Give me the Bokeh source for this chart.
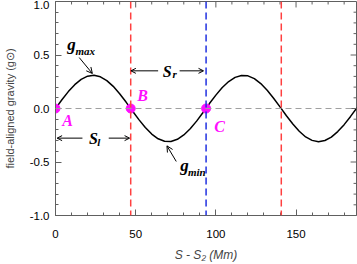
from bokeh.plotting import figure
from bokeh.models import (Range1d, FixedTicker, PrintfTickFormatter,
                          Span, Label, Arrow, OpenHead, ColumnDataSource)
from bokeh.embed import file_html
from bokeh.resources import INLINE

# ---- data ----
s_mm = [0, 4, 8, 12, 16, 20, 24, 28, 32, 36, 40, 44, 48, 52, 56, 60, 64, 68, 72, 76,
        80, 84, 88, 92, 96, 100, 104, 108, 112, 116, 120, 124, 128, 132, 136, 140,
        144, 148, 152, 156, 160, 164, 168, 172, 176, 180, 184, 188]
g_field = [0.000, 0.082, 0.158, 0.223, 0.272, 0.302, 0.310, 0.296, 0.261, 0.207,
           0.138, 0.060, -0.023, -0.104, -0.177, -0.239, -0.283, -0.306, -0.308,
           -0.288, -0.247, -0.190, -0.118, -0.037, 0.046, 0.125, 0.196, 0.252,
           0.291, 0.309, 0.305, 0.279, 0.233, 0.170, 0.096, 0.015, -0.068, -0.145,
           -0.213, -0.266, -0.298, -0.310, -0.299, -0.268, -0.216, -0.151, -0.074,
           0.008]
red_lines = [46.9, 140.8]
blue_lines = [93.9]
pt_x = [0.0, 46.9, 93.9]
pt_y = [0.0, 0.0, 0.0]
pt_names = ["A", "B", "C"]
x_ticks = [0, 50, 100, 150]
x_minor = [10, 20, 30, 40, 60, 70, 80, 90, 110, 120, 130, 140, 160, 170, 180]
y_ticks = [-1.0, -0.5, 0.0, 0.5, 1.0]
y_minor = [-0.9, -0.8, -0.7, -0.6, -0.4, -0.3, -0.2, -0.1,
           0.1, 0.2, 0.3, 0.4, 0.6, 0.7, 0.8, 0.9]

AX = "#606060"
SANS = "Liberation Sans"
SERIF = "Liberation Serif"
MAG = "#ff10ff"

p = figure(width=357, height=264, x_range=Range1d(0, 187.7), y_range=Range1d(-1, 1),
           output_backend="svg", toolbar_location=None,
           min_border_left=51, min_border_right=1, min_border_top=1, min_border_bottom=48)
p.grid.visible = False
p.outline_line_color = AX
p.background_fill_color = "white"
p.border_fill_color = "white"


def style_axis(ax):
    ax.axis_line_color = AX
    ax.major_tick_line_color = AX
    ax.minor_tick_line_color = AX
    ax.major_tick_in = 6
    ax.major_tick_out = 0
    ax.minor_tick_in = 3
    ax.minor_tick_out = 0
    ax.major_label_text_font = SANS
    ax.major_label_text_font_size = "11.5px"
    ax.major_label_text_color = "black"


xa = p.xaxis[0]
xa.ticker = FixedTicker(ticks=x_ticks, minor_ticks=x_minor)
style_axis(xa)
xa.major_label_standoff = 14
xa.axis_label = "S - S\u2082 (Mm)"
xa.axis_label_text_font = SANS
xa.axis_label_text_font_size = "12px"
xa.axis_label_text_font_style = "italic"
xa.axis_label_standoff = 7

ya = p.yaxis[0]
ya.ticker = FixedTicker(ticks=y_ticks, minor_ticks=y_minor)
ya.formatter = PrintfTickFormatter(format="%.1f")
style_axis(ya)
ya.major_label_standoff = 6
ya.axis_label = "field-aligned gravity (g\u2299)"
ya.axis_label_text_font = SANS
ya.axis_label_text_font_size = "11px"
ya.axis_label_text_font_style = "normal"
ya.axis_label_standoff = 11

# mirrored ticks on top and right edges (no labels)
nx, nxm = len(x_ticks), len(x_minor)
ny, nym = len(y_ticks), len(y_minor)
maj_x_len = 6 / 1.625
min_x_len = 3 / 1.625
maj_y_len = 6 / 107.5
min_y_len = 3 / 107.5
p.segment(x0=x_ticks, y0=[1.0] * nx, x1=x_ticks, y1=[1.0 - maj_y_len] * nx,
          line_color=AX, line_width=1)
p.segment(x0=x_minor, y0=[1.0] * nxm, x1=x_minor, y1=[1.0 - min_y_len] * nxm,
          line_color=AX, line_width=1)
p.segment(x0=[187.7] * ny, y0=y_ticks, x1=[187.7 - maj_x_len] * ny, y1=y_ticks,
          line_color=AX, line_width=1)
p.segment(x0=[187.7] * nym, y0=y_minor, x1=[187.7 - min_x_len] * nym, y1=y_minor,
          line_color=AX, line_width=1)

# zero line
p.add_layout(Span(location=0, dimension="width", line_color="#a0a0a0",
                  line_dash="6 4", line_width=1))
for xv in red_lines:
    p.add_layout(Span(location=xv, dimension="height", line_color="#ff4040",
                      line_dash="7 4", line_width=1.5))
for xv in blue_lines:
    p.add_layout(Span(location=xv, dimension="height", line_color="#2030e0",
                      line_dash="7 4", line_width=1.5))

src = ColumnDataSource(dict(x=s_mm, y=g_field))
p.line("x", "y", source=src, line_color="black", line_width=1.5)

p.scatter(pt_x, pt_y, size=9, color=MAG, line_color=MAG)

# point labels
pt_lab_pos = [(7.6, -0.11), (54.3, 0.12), (102.3, -0.165)]
for name, (lx, ly) in zip(pt_names, pt_lab_pos):
    p.add_layout(Label(x=lx, y=ly, text=name, text_font=SERIF, text_font_size="16px",
                       text_font_style="bold italic", text_color=MAG,
                       text_align="center", text_baseline="middle"))


def lab(x, y, t, size, align="center"):
    p.add_layout(Label(x=x, y=y, text=t, text_font=SERIF, text_font_size=size,
                       text_font_style="bold italic", text_color="black",
                       text_align=align, text_baseline="middle"))


# g_max
lab(10.0, 0.60, "g", "17px")
lab(12.5, 0.535, "max", "11px", "left")
p.add_layout(Arrow(x_start=14.8, y_start=0.476, x_end=23.0, y_end=0.327,
                   line_width=1, end=OpenHead(size=6, line_width=1)))
# g_min
lab(80.4, -0.53, "g", "17px")
lab(82.6, -0.597, "min", "11px", "left")
p.add_layout(Arrow(x_start=75.3, y_start=-0.495, x_end=69.5, y_end=-0.349,
                   line_width=1, end=OpenHead(size=6, line_width=1)))
# S_r
lab(69.7, 0.35, "S", "16px")
lab(73.0, 0.325, "r", "11px", "left")
p.add_layout(Arrow(x_start=64.0, y_start=0.352, x_end=47.0, y_end=0.352,
                   line_width=1, end=OpenHead(size=5, line_width=1)))
p.add_layout(Arrow(x_start=77.4, y_start=0.352, x_end=92.3, y_end=0.352,
                   line_width=1, end=OpenHead(size=5, line_width=1)))
# S_l
lab(23.6, -0.282, "S", "16px")
lab(26.0, -0.31, "l", "11px", "left")
p.add_layout(Arrow(x_start=16.8, y_start=-0.277, x_end=1.0, y_end=-0.277,
                   line_width=1, end=OpenHead(size=5, line_width=1)))
p.add_layout(Arrow(x_start=33.2, y_start=-0.277, x_end=46.2, y_end=-0.277,
                   line_width=1, end=OpenHead(size=5, line_width=1)))

open("out.html", "w").write(file_html(p, INLINE))
